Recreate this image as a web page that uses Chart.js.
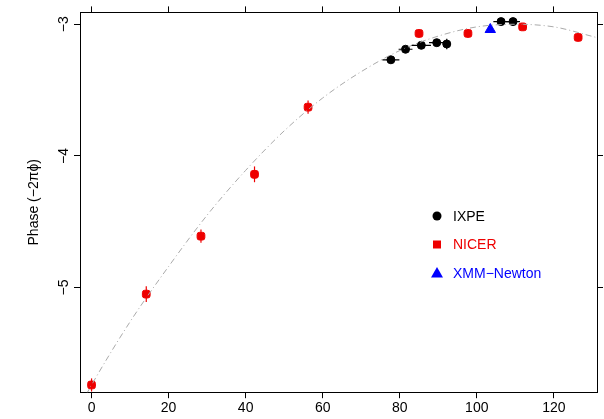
<!DOCTYPE html><html><head><script src="https://cdn.jsdelivr.net/npm/chart.js@4"></script>
<style>body{margin:0;background:#fff}#w{width:604px;height:419px}</style></head><body><div id="w"><canvas id="c"></canvas></div><script>
const ixpeX=[77.7,81.5,85.6,89.6,92.2,106.3,109.4];
const ixpeY=[-3.27,-3.19,-3.16,-3.14,-3.15,-2.98,-2.98];
const ixpeXErr=[2.2,1.8,2.5,2,1,2,1.8];
const ixpeYErr=[0.01,0.01,0.01,0.01,0.04,0.01,0.01];
const nicerX=[0,14.2,28.4,42.3,56.2,85,97.7,111.9,126.3];
const nicerY=[-5.74,-5.05,-4.61,-4.14,-3.63,-3.07,-3.07,-3.02,-3.10];
const nicerYErr=[0.05,0.06,0.05,0.06,0.05,0.03,0.03,0.02,0.03];
const xmmX=[103.5], xmmY=[-3.04];
const curveX=[-3,0,10,20,30,40,50,60,70,80,90,100,110,120,131];
const curveY=[-5.9,-5.74,-5.26,-4.84,-4.45,-4.11,-3.81,-3.56,-3.36,-3.20,-3.09,-3.02,-3.0,-3.02,-3.1];
const yTicks=[-3,-4,-5];
const mk=(xs,ys)=>xs.map((x,i)=>({x,y:ys[i]}));
const errPlugin={id:'err',afterDatasetsDraw(ch){const c=ch.ctx,xs=ch.scales.x,ys=ch.scales.y;c.save();c.lineWidth=1.2;
 const draw=(X,Y,xe,ye,col)=>X.forEach((x,i)=>{c.strokeStyle=col;c.beginPath();
  const px=xs.getPixelForValue(x),py=ys.getPixelForValue(Y[i]);
  if(xe){c.moveTo(xs.getPixelForValue(x-xe[i]),py);c.lineTo(xs.getPixelForValue(x+xe[i]),py);}
  if(ye){c.moveTo(px,ys.getPixelForValue(Y[i]-ye[i]));c.lineTo(px,ys.getPixelForValue(Y[i]+ye[i]));}
  c.stroke();});
 draw(ixpeX,ixpeY,ixpeXErr,ixpeYErr,'#000');draw(nicerX,nicerY,null,nicerYErr,'#e00');
 c.fillStyle='#000';c.font='14px "Liberation Sans", Arial';c.textAlign='center';c.textBaseline='bottom';
 yTicks.forEach(v=>{c.save();c.translate(xs.left-9,ys.getPixelForValue(v));c.rotate(-Math.PI/2);c.fillText(String(v).replace('-','\u2212'),0,0);c.restore();});
 const items=[['IXPE','#000','circle'],['NICER','#e00','rect'],['XMM\u2212Newton','#00f','triangle']];
 c.textAlign='left';c.textBaseline='middle';c.font='14px "Liberation Sans", Arial';
 items.forEach((it,i)=>{const y=216+i*28.5,x=437;c.fillStyle=it[1];c.beginPath();
  if(it[2]=='circle'){c.arc(x,y,4.5,0,7);}else if(it[2]=='rect'){c.rect(x-4,y-4,8,8);}else{c.moveTo(x,y-6);c.lineTo(x+6,y+4.5);c.lineTo(x-6,y+4.5);c.closePath();}
  c.fill();c.fillText(it[0],x+16,y+1);});
 c.restore();}};
const ax={grid:{drawOnChartArea:false,tickLength:6,color:'#000',tickWidth:1},border:{color:'#000',width:1}};
const XMIN=-3,XMAX=131.2,YMIN=-5.795,YMAX=-2.91;
new Chart(document.getElementById('c'),{type:'scatter',data:{datasets:[
 {type:'line',data:mk(curveX,curveY),borderColor:'#aaa',borderWidth:1,borderDash:[6,3,1,3],pointRadius:0,cubicInterpolationMode:'monotone',fill:false},
 {label:'NICER',data:mk(nicerX,nicerY),pointStyle:'rectRounded',pointRadius:4.5,backgroundColor:'#e00',borderColor:'#e00'},
 {label:'IXPE',data:mk(ixpeX,ixpeY),pointRadius:4,backgroundColor:'#000',borderColor:'#000'},
 {label:'XMM',data:mk(xmmX,xmmY),pointStyle:'triangle',pointRadius:6,backgroundColor:'#00f',borderColor:'#00f'}]},
 plugins:[errPlugin],
 options:{animation:false,responsive:true,maintainAspectRatio:false,layout:{padding:{top:0,right:0,left:22,bottom:0}},
 plugins:{legend:{display:false},tooltip:{enabled:false}},
 scales:{
  x:{...ax,type:'linear',min:XMIN,max:XMAX,afterBuildTicks:s=>{s.ticks=[0,20,40,60,80,100,120].map(v=>({value:v}))},ticks:{color:'#000',font:{size:14,family:'Liberation Sans'},padding:2,maxRotation:0}},
  x2:{...ax,type:'linear',position:'top',min:XMIN,max:XMAX,afterBuildTicks:s=>{s.ticks=[0,20,40,60,80,100,120].map(v=>({value:v}))},ticks:{display:false}},
  y:{...ax,type:'linear',min:YMIN,max:YMAX,afterBuildTicks:s=>{s.ticks=yTicks.map(v=>({value:v}))},ticks:{color:'transparent',font:{size:14},padding:4},afterFit:s=>{s.width=58},
   title:{display:true,text:'Phase (\u22122\u03c0\u03d5)',color:'#000',font:{size:14,family:'Liberation Sans'},padding:{bottom:4}}},
  y2:{...ax,type:'linear',position:'right',min:YMIN,max:YMAX,afterBuildTicks:s=>{s.ticks=yTicks.map(v=>({value:v}))},ticks:{display:false},afterFit:s=>{s.width=6}}
 }}});
</script></body></html>
